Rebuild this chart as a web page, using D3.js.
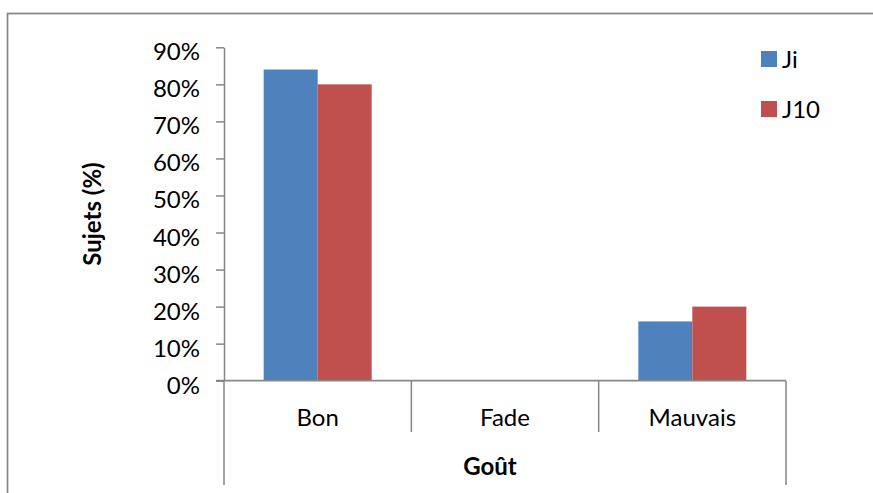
<!DOCTYPE html>
<html>
<head>
<meta charset="utf-8">
<script src="https://cdn.jsdelivr.net/npm/d3@7/dist/d3.min.js"></script>
<style>
  html, body { margin: 0; padding: 0; background: #fff; }
  svg { display: block; }
  text { font-family: Lato, "Open Sans", sans-serif; fill: #000; }
</style>
</head>
<body>
<svg id="chart" width="873" height="493"></svg>
<script>
// Goût ratings per survey day
const categories = ["Bon", "Fade", "Mauvais"];
const seriesNames = ["Ji", "J10"];
const seriesJi = [0.84, 0, 0.16];
const seriesJ10 = [0.80, 0, 0.20];
const yTicks = [0, 0.1, 0.2, 0.3, 0.4, 0.5, 0.6, 0.7, 0.8, 0.9];
const colors = ["#4F81BD", "#C0504D"];
const axisGray = "#868686";

const svg = d3.select("#chart");

// chart frame
svg.append("rect")
  .attr("x", 7.5).attr("y", 13.5)
  .attr("width", 900).attr("height", 520)
  .attr("fill", "none").attr("stroke", axisGray).attr("stroke-width", 1.75);

const y = d3.scaleLinear().domain([0, 0.9]).range([380.7, 47.3]);
const x = d3.scaleBand().domain(categories).range([224, 786]).padding(0);
const inner = d3.scaleBand().domain(seriesNames)
  .range([(x.bandwidth() - 108) / 2, (x.bandwidth() + 108) / 2]);

const rows = categories.map((c, i) => ({ cat: c, values: [seriesJi[i], seriesJ10[i]] }));

// bars
svg.append("g").selectAll("g").data(rows).join("g")
  .attr("transform", d => `translate(${x(d.cat)},0)`)
  .selectAll("rect")
  .data(d => d.values.map((v, j) => ({ name: seriesNames[j], v, j })))
  .join("rect")
  .attr("x", d => inner(d.name))
  .attr("width", inner.bandwidth())
  .attr("y", d => y(d.v))
  .attr("height", d => y(0) - y(d.v))
  .attr("fill", d => colors[d.j]);

// y axis
const yAxis = svg.append("g")
  .attr("transform", "translate(224,0)")
  .call(d3.axisLeft(y).tickValues(yTicks).tickFormat(d3.format(".0%"))
    .tickSize(8).tickPadding(16).tickSizeOuter(0));
yAxis.select(".domain").attr("stroke", axisGray).attr("stroke-width", 1.5);
yAxis.selectAll(".tick line").attr("stroke", axisGray).attr("stroke-width", 1.5);
yAxis.selectAll(".tick text")
  .attr("font-size", 24).attr("font-family", "Lato, sans-serif")
  .attr("dy", "0.52em").attr("fill", "#000");

// x axis: baseline and category separators
const y0 = y(0);
svg.append("line")
  .attr("x1", 216).attr("x2", x.range()[1])
  .attr("y1", y0).attr("y2", y0)
  .attr("stroke", axisGray).attr("stroke-width", 1.75);

const bounds = categories.map(c => x(c)).concat([x.range()[1]]);
svg.append("g").selectAll("line").data(bounds).join("line")
  .attr("x1", d => d).attr("x2", d => d)
  .attr("y1", y0)
  .attr("y2", (d, i) => (i === 0 || i === bounds.length - 1) ? 485 : 432)
  .attr("stroke", axisGray).attr("stroke-width", 1.5);

svg.append("g").selectAll("text").data(categories).join("text")
  .attr("x", d => x(d) + x.bandwidth() / 2)
  .attr("y", 426)
  .attr("text-anchor", "middle")
  .attr("font-size", 24)
  .text(d => d);

// axis titles
svg.append("text")
  .attr("transform", "translate(101,214) rotate(-90)")
  .attr("text-anchor", "middle")
  .attr("font-size", 24).attr("font-weight", "bold")
  .text("Sujets (%)");

svg.append("text")
  .attr("x", 490).attr("y", 475)
  .attr("text-anchor", "middle")
  .attr("font-size", 24).attr("font-weight", "bold")
  .text("Goût");

// legend
const legend = svg.append("g").selectAll("g").data(seriesNames).join("g")
  .attr("transform", (d, i) => `translate(761,${51 + i * 50})`);
legend.append("rect")
  .attr("width", 16).attr("height", 16)
  .attr("fill", (d, i) => colors[i]);
legend.append("text")
  .attr("x", 21).attr("y", 17)
  .attr("font-size", 24)
  .text(d => d);
</script>
</body>
</html>
